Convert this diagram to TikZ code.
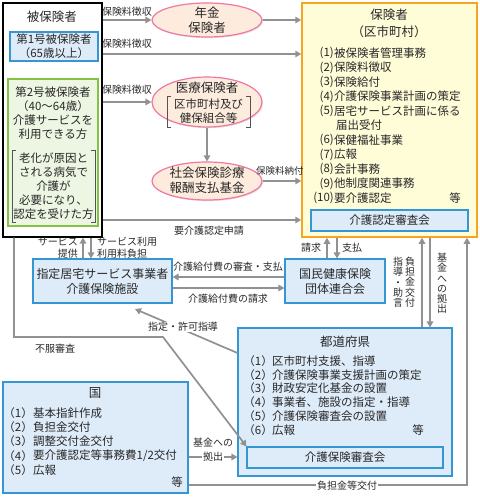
\documentclass[tikz,border=0pt]{standalone}
\usepackage{fontspec}
\setmainfont{Noto Sans CJK JP}
\usetikzlibrary{arrows.meta,shapes.geometric,shadows}
\definecolor{linegray}{RGB}{145,145,145}
\definecolor{bluebd}{RGB}{52,150,210}
\definecolor{bluefill}{RGB}{222,236,250}
\definecolor{greenbd}{RGB}{130,195,65}
\definecolor{greenfill}{RGB}{237,246,227}
\definecolor{pinkbd}{RGB}{240,120,160}
\definecolor{peach}{RGB}{253,236,221}
\definecolor{orangebd}{RGB}{245,165,35}
\definecolor{yellowfill}{RGB}{255,252,216}
\definecolor{txt}{RGB}{40,40,40}
\newcommand{\fst}{\fontsize{12.5}{15}\selectfont}
\newcommand{\fsb}{\fontsize{11.5}{14}\selectfont}
\newcommand{\fsm}{\fontsize{12}{15}\selectfont}
\newcommand{\fsl}{\fontsize{10}{12}\selectfont}
\newcommand{\fss}{\fontsize{9.5}{11}\selectfont}
\begin{document}
\begin{tikzpicture}[x=1pt,y=-1pt,
  every node/.style={text=txt},
  shd/.style={drop shadow={opacity=0.22,shadow xshift=1.2pt,shadow yshift=-1.2pt}},
  bluebox/.style={draw=bluebd,fill=bluefill,line width=1.1pt,shd,inner sep=0pt},
  greenbox/.style={draw=greenbd,fill=greenfill,line width=1.3pt,shd,inner sep=0pt},
  ell/.style={ellipse,draw=pinkbd,fill=peach,line width=1.2pt,shd,inner sep=0pt},
  conn/.style={draw=linegray,line width=1.7pt,-{Triangle[length=6pt,width=6.5pt]}},
  brk/.style={draw=txt!80,line width=0.7pt},
  lbl/.style={font=\fsl,inner sep=0pt,align=center},
  vlbl/.style={font=\fontsize{10}{10.2}\selectfont,inner sep=0pt,align=center,anchor=north},
  itl/.style={font=\fsb,inner sep=0pt,anchor=east},
  itw/.style={font=\fsb,inner sep=0pt,anchor=west},
  ttl/.style={font=\fst,inner sep=0pt,align=center}
]
\useasboundingbox (0,0) rectangle (480,499);

% ---------------- hihokensha ----------------
\node[draw=black,fill=white,line width=1.2pt,minimum width=99pt,minimum height=234pt,inner sep=0pt] (hihoken) at (52.5,120) {};
\node[ttl] (hihokenT) at (52,17) {被保険者};
\node[bluebox,minimum width=88pt,minimum height=29pt,align=center,font=\fsb] (dai1) at (54,46.5) {第1号被保険者\\（65歳以上）};
\node[greenbox,minimum width=90pt,minimum height=147pt] (dai2) at (53,152.5) {};
\node[font=\fsb,align=center,inner sep=0pt] (dai2T) at (53,113) {第2号被保険者\\（40～64歳）\\介護サービスを\\利用できる方};
\node[font=\fsb,align=center,inner sep=0pt] (rouka) at (53.5,186) {老化が原因と\\される病気で\\介護が\\必要になり、\\認定を受けた方};
\draw[brk] (16,150) -- (12,150) -- (12,222) -- (16,222);
\draw[brk] (91,150) -- (95,150) -- (95,222) -- (91,222);

% ---------------- ellipses ----------------
\node[ell,minimum width=110pt,minimum height=34pt] (nenkin) at (207,20) {};
\node[ttl] (nenkinT) at (207,20.5) {年金\\保険者};
\node[ell,minimum width=110pt,minimum height=50pt] (iryo) at (207,102) {};
\node[ttl] (iryoT) at (207,88) {医療保険者};
\node[font=\fsb,align=center,inner sep=0pt] (iryoS) at (208.5,111.5) {区市町村及び\\健保組合等};
\draw[brk] (171,96) -- (167,96) -- (167,127) -- (171,127);
\draw[brk] (246,96) -- (250,96) -- (250,127) -- (246,127);
\node[ell,minimum width=110pt,minimum height=38pt] (shakai) at (207,181) {};
\node[ttl] (shakaiT) at (207,180.5) {社会保険診療\\報酬支払基金};

% ---------------- hokensha ----------------
\node[draw=orangebd,fill=yellowfill,line width=1.5pt,shd,minimum width=175pt,minimum height=234pt,inner sep=0pt] (hokensha) at (389.5,120) {};
\node[ttl] (hokenshaT) at (389,15) {保険者};
\node[ttl] (hokenshaS) at (389,32) {（区市町村）};
\node[itl] (h1) at (334,53) {(1)};   \node[itw] (h1t) at (334,53) {被保険者管理事務};
\node[itl] (h2) at (334,67.5) {(2)}; \node[itw] (h2t) at (334,67.5) {保険料徴収};
\node[itl] (h3) at (334,82) {(3)};   \node[itw] (h3t) at (334,82) {保険給付};
\node[itl] (h4) at (334,96.5) {(4)}; \node[itw] (h4t) at (334,96.5) {介護保険事業計画の策定};
\node[itl] (h5) at (334,111) {(5)};  \node[itw] (h5t) at (334,111) {居宅サービス計画に係る};
\node[itw] (h5u) at (336,125.5) {届出受付};
\node[itl] (h6) at (334,140) {(6)};  \node[itw] (h6t) at (334,140) {保健福祉事業};
\node[itl] (h7) at (334,154.5) {(7)}; \node[itw] (h7t) at (334,154.5) {広報};
\node[itl] (h8) at (334,169) {(8)};  \node[itw] (h8t) at (334,169) {会計事務};
\node[itl] (h9) at (334,183.5) {(9)}; \node[itw] (h9t) at (334,183.5) {他制度関連事務};
\node[itl] (h10) at (334,198) {(10)}; \node[itw] (h10t) at (334,198) {要介護認定};
\node[font=\fsb,inner sep=0pt] (htou) at (455,198) {等};
\node[bluebox,minimum width=157pt,minimum height=21pt,font=\fsb] (shinsa1) at (389.5,220.5) {介護認定審査会};

% ---------------- arrows top ----------------
\draw[conn] (hihoken.east |- nenkin.west) -- (nenkin.west);
\node[lbl] (l1) at (127,12) {保険料徴収};
\draw[conn] (nenkin.east) -- (hokensha.west |- nenkin.east);
\draw[conn] (hihoken.east |- 0,54) -- (hokensha.west |- 0,54);
\node[lbl] (l2) at (127,44) {保険料徴収};
\draw[conn] (hihoken.east |- iryo.west) -- (iryo.west);
\node[lbl] (l3) at (127,90) {保険料徴収};
\draw[conn] (iryo.south) -- (shakai.north);
\draw[conn] (shakai.east) -- (hokensha.west |- shakai.east);
\node[lbl,font=\fss,anchor=west] (l4) at (256,171) {保険料納付};
\draw[conn] (hihoken.east |- 0,220) -- (hokensha.west |- 0,220);
\node[lbl] (l5) at (209,231) {要介護認定申請};

% ---------------- middle ----------------
\node[bluebox,minimum width=139pt,minimum height=44pt,align=center,font=\fsm] (jigyo) at (102.5,281) {指定居宅サービス事業者\\介護保険施設};
\node[bluebox,minimum width=100pt,minimum height=44pt,align=center,font=\fsm] (kokuho) at (335,281) {国民健康保険\\団体連合会};

\draw[conn] ([xshift=-19.5pt]jigyo.north) -- ([xshift=-19.5pt]jigyo.north |- hihoken.south);
\draw[conn] ([xshift=-11.5pt]jigyo.north |- hihoken.south) -- ([xshift=-11.5pt]jigyo.north);
\node[lbl,anchor=east,align=right] (l6) at (78,247.5) {サービス\\提供};
\node[lbl,anchor=west,align=left] (l7) at (97,247.5) {サービス利用\\利用料負担};

\draw[conn] (kokuho.west |- 0,277) -- (jigyo.east |- 0,277);
\node[lbl] (l8) at (228,267) {介護給付費の審査・支払};
\draw[conn] (jigyo.east |- 0,288) -- (kokuho.west |- 0,288);
\node[lbl] (l9) at (228,298.5) {介護給付費の請求};

\draw[conn] (kokuho.north -| 327,0) -- (hokensha.south -| 327,0);
\draw[conn] (hokensha.south -| 337,0) -- (kokuho.north -| 337,0);
\node[lbl] (l10) at (311,248) {請求};
\node[lbl] (l11) at (352,248) {支払};

% ---------------- todofuken ----------------
\node[bluebox,minimum width=214pt,minimum height=148pt] (todofuken) at (345,402) {};
\node[ttl] (todofukenT) at (345,342) {都道府県};
\node[itl] (t1) at (273,361) {（1）}; \node[itw] (t1t) at (272,361) {区市町村支援、指導};
\node[itl] (t2) at (273,374.8) {（2）}; \node[itw] (t2t) at (272,374.8) {介護保険事業支援計画の策定};
\node[itl] (t3) at (273,388.6) {（3）}; \node[itw] (t3t) at (272,388.6) {財政安定化基金の設置};
\node[itl] (t4) at (273,402.4) {（4）}; \node[itw] (t4t) at (272,402.4) {事業者、施設の指定・指導};
\node[itl] (t5) at (273,416.2) {（5）}; \node[itw] (t5t) at (272,416.2) {介護保険審査会の設置};
\node[itl] (t6) at (273,430) {（6）}; \node[itw] (t6t) at (272,430) {広報};
\node[font=\fsb,inner sep=0pt] (ttou) at (418,430) {等};
\node[bluebox,minimum width=196pt,minimum height=21pt,font=\fsb] (shinsa2) at (345,457.5) {介護保険審査会};

\draw[conn] (todofuken.north -| 422,0) -- (hokensha.south -| 422,0);
\draw[conn] (hokensha.south -| 430,0) -- (todofuken.north -| 430,0);
\node[vlbl] (v1) at (398,257) {指\\導\\・\\助\\言};
\node[vlbl] (v2) at (410,257) {負\\担\\金\\交\\付};
\node[vlbl] (v3) at (442,253) {基\\金\\へ\\の\\拠\\出};

% ---------------- kuni ----------------
\node[bluebox,minimum width=185pt,minimum height=111pt] (kuni) at (95.5,437.5) {};
\node[ttl] (kuniT) at (95,393) {国};
\node[itl] (k1) at (33,413) {（1）}; \node[itw] (k1t) at (33,413) {基本指針作成};
\node[itl] (k2) at (33,427.3) {（2）}; \node[itw] (k2t) at (33,427.3) {負担金交付};
\node[itl] (k3) at (33,441.6) {（3）}; \node[itw] (k3t) at (33,441.6) {調整交付金交付};
\node[itl] (k4) at (33,455.9) {（4）}; \node[itw] (k4t) at (33,455.9) {要介護認定等事務費1/2交付};
\node[itl] (k5) at (33,470.2) {（5）}; \node[itw] (k5t) at (33,470.2) {広報};
\node[font=\fsb,inner sep=0pt] (ktou) at (177,482) {等};

% ---------------- lower connectors ----------------
\draw[conn] (kuni.east |- 0,457) -- (todofuken.west |- 0,457);
\node[lbl] (l12) at (213,443) {基金への};
\node[lbl,fill=white,inner sep=1pt] (l13) at (213,457) {拠出};

\coordinate (fcorner) at (467,485);
\draw[conn] (kuni.east |- fcorner) -- (fcorner) -- (fcorner |- hokensha.south);
\node[lbl,fill=white,inner sep=1pt] (l14) at (347,485.5) {負担金等交付};

\coordinate (shiteiEnd) at (135,309);
\draw[conn] (todofuken.west |- 0,353) -- (shiteiEnd);
\node[lbl,fill=white,inner sep=0.5pt] (l15) at (183,327) {指定・許可指導};

\coordinate (fuf1) at (14,337);
\coordinate (fuf2) at (163,337);
\draw[conn] (hihoken.south -| fuf1) -- (fuf1) -- (fuf2) -- (shinsa2.north west);
\node[lbl] (l16) at (55,349) {不服審査};
\end{tikzpicture}
\end{document}
